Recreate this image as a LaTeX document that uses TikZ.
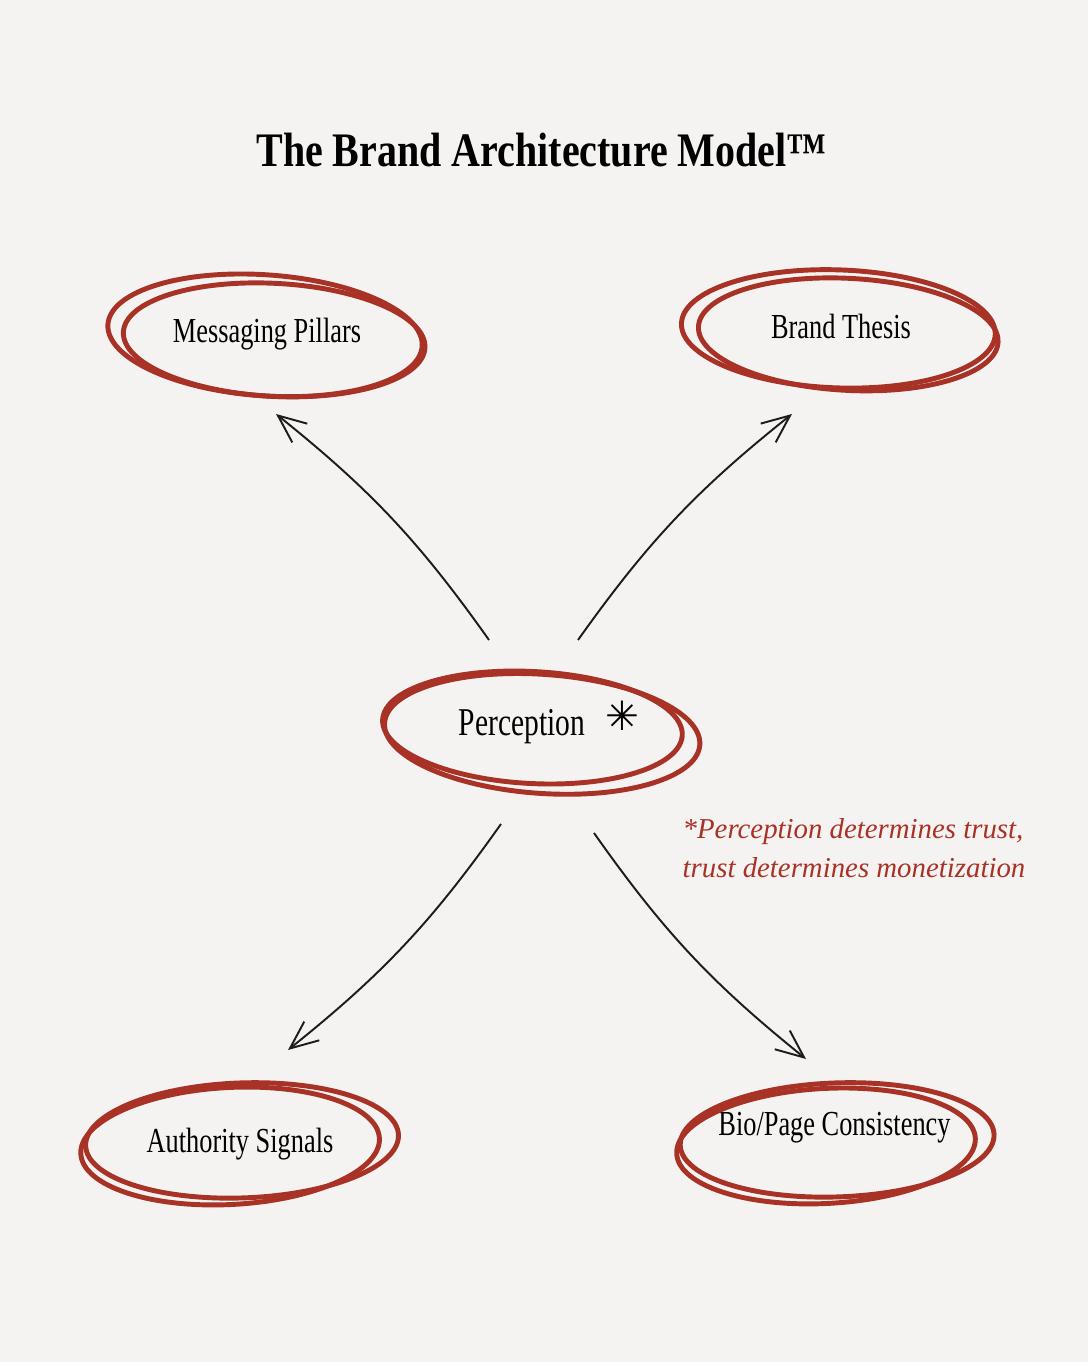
\documentclass[tikz,border=0pt]{standalone}
\usepackage{fontspec}
\setmainfont{Liberation Serif}[FakeStretch=0.83]
\newfontfamily\nodefont{Liberation Serif}[FakeStretch=0.75]
\newfontfamily\notefont{Liberation Serif}
\newfontfamily\symfont{DejaVu Sans}
\usetikzlibrary{arrows.meta}
\definecolor{paper}{RGB}{245,243,241}
\definecolor{brandred}{RGB}{168,50,38}
\definecolor{ink}{RGB}{28,28,28}
\tikzset{ring/.style={draw=brandred, line width=1.4pt},
	nodetext/.style={font=\nodefont\fontsize{10}{12}\selectfont, inner sep=0pt, anchor=base},
	arr/.style={draw=ink, line width=0.55pt, -{Straight Barb[length=2.8mm, width=2.4mm]}}}

\begin{document}
\begin{tikzpicture}
	\def \curv {8}
	\fill[paper] (0,0) rectangle (10.88,13.62);
	\useasboundingbox (0,0) rectangle (10.88,13.62);

	\node[anchor=base, inner sep=0pt, font=\fontsize{13.7}{16}\selectfont\bfseries] (title) at (5.415,11.95) {The Brand Architecture Model™};

	\node[nodetext] (pillars) at (2.67,10.19) {Messaging Pillars};
	\node[nodetext] (thesis) at (8.41,10.23) {Brand Thesis};
	\node[nodetext, font=\nodefont\fontsize{11.2}{13}\selectfont] (perc) at (5.22,6.26) {Perception};
	\node[nodetext] (authority) at (2.40,2.09) {Authority Signals};
	\node[nodetext] (bio) at (8.345,2.26) {Bio/Page Consistency};

	\node[inner sep=0pt, font=\symfont\bfseries\fontsize{11.5}{11.5}\selectfont] (star) at (6.22,6.46) {✳};
	\node[anchor=base west, inner sep=0pt, align=left, text=brandred, font=\notefont\itshape\fontsize{8.2}{11.3}\selectfont] (note) at (6.82,4.84) {*Perception determines trust,\\trust determines monetization};

	% hand drawn loops round the nodes
	\draw[ring, shift={(pillars.base)}, rotate=-3] (0.07,0.035) ellipse (1.51 and 0.565);
	\draw[ring, shift={(pillars.base)}, rotate=-4] (-0.025,0.075) ellipse (1.575 and 0.605);
	\draw[ring, shift={(thesis.base)}, rotate=-3] (0.07,0.05) ellipse (1.50 and 0.56);
	\draw[ring, shift={(thesis.base)}, rotate=-2] (-0.03,0.10) ellipse (1.57 and 0.59);
	\draw[ring, shift={(perc.base)}, rotate=-3] (0.10,0.09) ellipse (1.50 and 0.56);
	\draw[ring, shift={(perc.base)}, rotate=-4] (0.20,0.035) ellipse (1.58 and 0.595);
	\draw[ring, shift={(authority.base)}, rotate=3] (-0.095,0.075) ellipse (1.495 and 0.585);
	\draw[ring, shift={(authority.base)}, rotate=2] (0.025,0.125) ellipse (1.565 and 0.575);
	\draw[ring, shift={(bio.base)}, rotate=3] (-0.09,-0.095) ellipse (1.495 and 0.575);
	\draw[ring, shift={(bio.base)}, rotate=2] (0.025,-0.04) ellipse (1.57 and 0.57);

	% arrows out of perception
	\draw[arr] ([shift={(-0.33,0.96)}]perc.base) to[bend right=\curv] ([shift={(0.09,-0.71)}]pillars.base);
	\draw[arr] ([shift={(0.56,0.96)}]perc.base) to[bend left=\curv] ([shift={(-0.49,-0.75)}]thesis.base);
	\draw[arr] ([shift={(-0.21,-0.88)}]perc.base) to[bend left=\curv] ([shift={(0.48,1.03)}]authority.base);
	\draw[arr] ([shift={(0.72,-0.97)}]perc.base) to[bend right=\curv] ([shift={(-0.285,0.77)}]bio.base);
\end{tikzpicture}
\end{document}
